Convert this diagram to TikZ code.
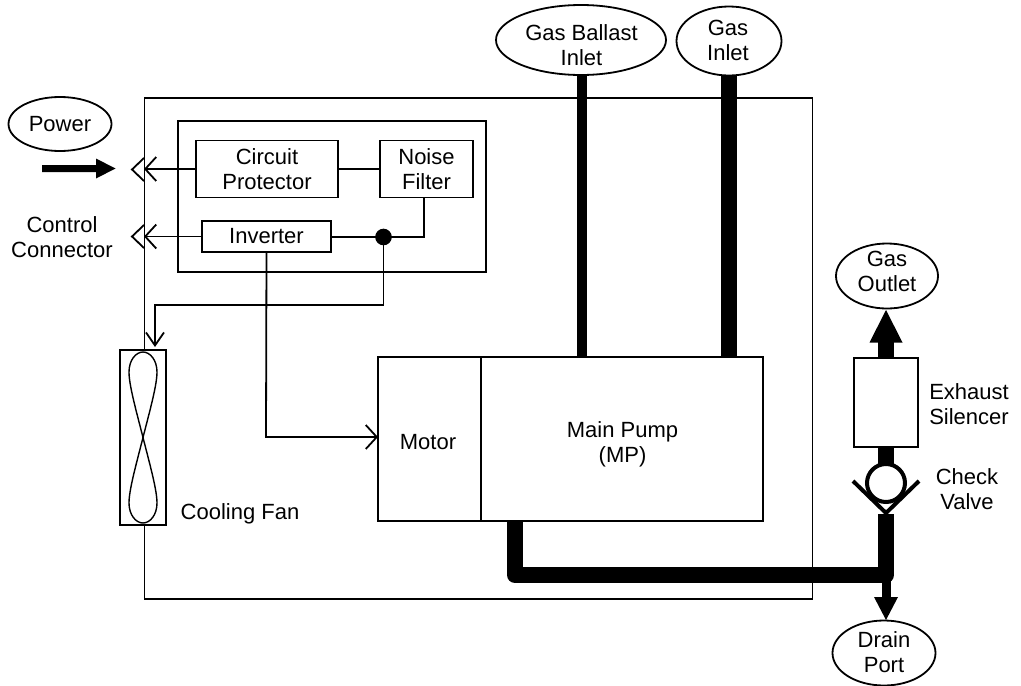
\documentclass[tikz,border=0pt]{standalone}
\usepackage{fontspec}
\setmainfont{Liberation Sans}
\usetikzlibrary{shapes.geometric,arrows.meta}
\tikzset{
  x=1pt,y=-1pt,
  every node/.style={font=\fontsize{22}{25}\selectfont,align=center,inner sep=0pt,outer sep=0pt},
  thin line/.style={line width=1.8pt,draw=black},
  boxnode/.style={rectangle,draw=black,line width=1.8pt,fill=white},
  portnode/.style={ellipse,draw=black,line width=1.8pt,fill=white},
  barbarrow/.style={line width=1.8pt,-{Straight Barb[length=11pt,width=24pt,line width=1.8pt]}},
  smallbarb/.style={line width=1.8pt,-{Straight Barb[length=13pt,width=18pt,line width=1.8pt]}},
  chevron/.style={line width=1.8pt},
  pipe/.style={line width=16pt,line join=round,draw=black},
  ballastpipe/.style={line width=10pt,draw=black},
  solidhead/.style={fill=black,draw=none},
}
\begin{document}
\begin{tikzpicture}
\useasboundingbox (0,0) rectangle (1021,686);
% main enclosure and inner electrical box
\node[boxnode,minimum width=668pt,minimum height=501pt,anchor=north west] (enclosure) at (144.5,98) {};
\node[boxnode,minimum width=308pt,minimum height=151pt,anchor=north west] (elec) at (178,121) {};

% coordinates
\coordinate (plugA) at (144,169);
\coordinate (plugB) at (144,236.5);
\coordinate (junction) at (383.5,237);
\coordinate (nfdrop) at (424,237);
\coordinate (fandropA) at (383.5,305);
\coordinate (fanbend) at (155,305);
\coordinate (fantip) at (155,347);
\coordinate (invbend) at (266,437);
\coordinate (pipeA) at (515,575);
\coordinate (pipeB) at (886,575);
\coordinate (pipeTop) at (886,514);
\coordinate (pumpOut) at (515,515);
\coordinate (ballastDrop) at (581.5,75);

% ports
\node[portnode,minimum width=170pt,minimum height=70pt] (ballast) at (581,40) {};
\node (ballastlbl) at (581.5,45) {Gas Ballast\\Inlet};
\node[portnode,minimum width=105pt,minimum height=69pt] (gasin) at (729,41) {};
\node (gasinlbl) at (728,40) {Gas\\Inlet};
\node[portnode,minimum width=103pt,minimum height=54pt] (power) at (60,124) {Power};
\node[portnode,minimum width=102pt,minimum height=65pt] (outlet) at (887,276) {};
\node (outletlbl) at (887,271) {Gas\\Outlet};
\node[portnode,minimum width=103pt,minimum height=65pt] (drain) at (884,653) {};
\node (drainlbl) at (884,652) {Drain\\Port};

% boxes
\node[boxnode,minimum width=142pt,minimum height=57pt] (cp) at (267,169) {Circuit\\Protector};
\node[boxnode,minimum width=93pt,minimum height=57pt] (nf) at (426.5,169) {Noise\\Filter};
\node[boxnode,minimum width=129pt,minimum height=31pt] (inv) at (266.5,236.5) {Inverter};
\node[boxnode,minimum width=103pt,minimum height=164pt] (motor) at (429.5,439) {};
\node (motorlbl) at (428,442) {Motor};
\node[boxnode,minimum width=282pt,minimum height=164pt] (pump) at (622,439) {};
\node (pumplbl) at (622.5,444) {Main Pump\\(MP)};
\node[boxnode,minimum width=64pt,minimum height=89pt] (silencer) at (886,402.5) {};
\node[boxnode,minimum width=46pt,minimum height=175pt] (fan) at (143,437.5) {};

% wiring
\draw[thin line] (cp.east) -- (nf.west);
\draw[thin line] (nf.south -| nfdrop) -- (nfdrop) -- (inv.east |- nfdrop);
\draw[barbarrow] (cp.west) -- (plugA);
\draw[barbarrow] (inv.west) -- (plugB);
\draw[chevron] (144,158) -- (132,169.5) -- (144,181);
\draw[chevron] (144,225) -- (132,236.5) -- (144,248);
\draw[line width=1.6pt,fill=black] (junction) circle (7.5);
\draw[smallbarb,line join=miter] (junction) -- (fandropA) -- (fanbend) -- (fantip);
\draw[barbarrow] (inv.south) -- (invbend) -- (motor.west |- invbend);

% fan blade
\draw[line width=1.4pt] (143,437.5)
  .. controls (150,410) and (157,385) .. (157,372)
  .. controls (157,360) and (150,352) .. (143,352)
  .. controls (136,352) and (129,360) .. (129,372)
  .. controls (129,385) and (136,410) .. (143,437.5)
  .. controls (150,465) and (157,490) .. (157,503)
  .. controls (157,515) and (150,523) .. (143,523)
  .. controls (136,523) and (129,515) .. (129,503)
  .. controls (129,490) and (136,465) .. (143,437.5) -- cycle;

% pipes
\draw[ballastpipe] (ballastDrop) -- (ballastDrop |- pump.north);
\draw[pipe] (gasin.south) -- (gasin.south |- pump.north);
\draw[pipe] (motor.south -| pumpOut) -- (pipeA) -- (pipeB) -- (pipeTop);
\draw[pipe] (silencer.north) -- (886,342);
\draw[pipe] (silencer.south) -- (886,470);
\draw[line width=9pt] (pipeB) -- (886,597);

% solid arrow heads
\fill[solidhead] (886,310) -- (902.5,342.5) -- (869.5,342.5) -- cycle;
\fill[solidhead] (874,597) -- (898,597) -- (886,620) -- cycle;
\fill[solidhead] (42,165) -- (96,165) -- (96,158.5) -- (115.5,168.5) -- (96,178.5) -- (96,172) -- (42,172) -- cycle;

% check valve
\node[circle,draw=black,line width=4pt,fill=white,minimum size=38pt] (valve) at (886,483) {};
\draw[line width=4pt,line join=miter] (853,481) -- (886,513) -- (919,481);

% labels
\node (ctl) at (62,237) {Control\\Connector};
\node (exh) at (969,404.5) {Exhaust\\Silencer};
\node (chk) at (967,489) {Check\\Valve};
\node (cool) at (240,514) {Cooling Fan};
\end{tikzpicture}
\end{document}
